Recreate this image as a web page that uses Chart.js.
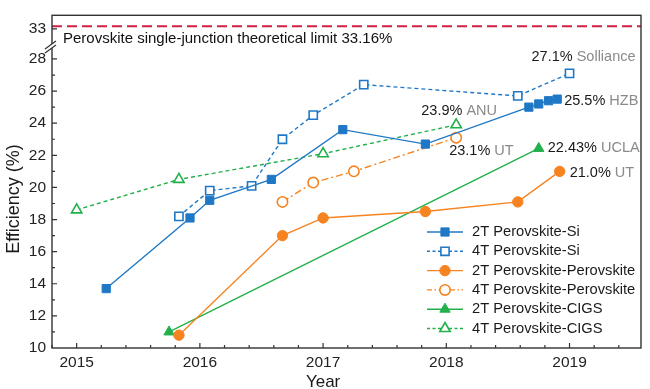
<!DOCTYPE html>
<html>
<head>
<meta charset="utf-8">
<script src="https://cdn.jsdelivr.net/npm/chart.js@4.4.0/dist/chart.umd.min.js"></script>
<style>
  html, body { margin: 0; padding: 0; background: #fff; }
  #chart__wrap { width: 650px; height: 389px; }
</style>
</head>
<body>
<div id="chart__wrap"><canvas id="chart-canvas" width="650" height="389"></canvas></div>
<script>
// axis ticks
const yearTicks = [2015, 2016, 2017, 2018, 2019];
const effTicks = [10, 12, 14, 16, 18, 20, 22, 24, 26, 28];
const effTicksTop = [33];

// series: year / efficiency (%)
const si2T_years = [2015.24, 2015.92, 2016.08, 2016.58, 2017.16, 2017.83, 2018.67, 2018.75, 2018.83, 2018.9];
const si2T_eff = [13.7, 18.1, 19.2, 20.5, 23.6, 22.7, 25.0, 25.2, 25.4, 25.5];

const si4T_years = [2015.83, 2016.08, 2016.42, 2016.67, 2016.92, 2017.33, 2018.58, 2019.0];
const si4T_eff = [18.2, 19.8, 20.1, 23.0, 24.5, 26.4, 25.7, 27.1];

const pp2T_years = [2015.83, 2016.67, 2017.0, 2017.83, 2018.58, 2018.92];
const pp2T_eff = [10.8, 17.0, 18.1, 18.5, 19.1, 21.0];

const pp4T_years = [2016.67, 2016.92, 2017.25, 2018.08];
const pp4T_eff = [19.1, 20.3, 21.0, 23.1];

const cigs2T_years = [2015.75, 2018.75];
const cigs2T_eff = [11.0, 22.43];

const cigs4T_years = [2015.0, 2015.83, 2017.0, 2018.08];
const cigs4T_eff = [18.6, 20.5, 22.1, 23.9];

const limitYears = [2014.8, 2019.58];
const limitEff = [33.16, 33.16];

const seriesLabels = [
  "2T Perovskite-Si",
  "4T Perovskite-Si",
  "2T Perovskite-Perovskite",
  "4T Perovskite-Perovskite",
  "2T Perovskite-CIGS",
  "4T Perovskite-CIGS",
];

const noteNums = ["27.1%", "25.5%", "23.9%", "23.1%", "22.43%", "21.0%"];
const noteLabs = ["Solliance", "HZB", "ANU", "UT", "UCLA", "UT"];

const BLUE = "#1f78c6";
const ORANGE = "#f6831f";
const GREEN = "#22b04b";
const RED = "#cf2145";
const FONT = "'Liberation Sans', Arial, sans-serif";

Chart.defaults.font.family = FONT;
Chart.defaults.color = "#222";

function toPoints(xs, ys) {
  return xs.map((x, i) => ({ x: x, y: ys[i] }));
}

function series(label, xs, ys, color, style, dash, open) {
  const r = style === "rect" ? 5.8 : style === "triangle" ? 6 : 5.2;
  return {
    label: label,
    data: toPoints(xs, ys),
    borderColor: color,
    backgroundColor: color,
    borderWidth: 1.4,
    borderDash: dash,
    pointStyle: style,
    pointRadius: r,
    pointHoverRadius: r,
    pointBackgroundColor: open ? "#fff" : color,
    pointBorderColor: color,
    pointBorderWidth: open ? 1.6 : 1,
    fill: false,
    tension: 0,
    yAxisID: "y",
    isOpen: open,
  };
}

const datasets = [
  series(seriesLabels[0], si2T_years, si2T_eff, BLUE, "rect", [], false),
  series(seriesLabels[1], si4T_years, si4T_eff, BLUE, "rect", [4, 3], true),
  series(seriesLabels[2], pp2T_years, pp2T_eff, ORANGE, "circle", [], false),
  series(seriesLabels[3], pp4T_years, pp4T_eff, ORANGE, "circle", [7, 3, 2, 3], true),
  series(seriesLabels[4], cigs2T_years, cigs2T_eff, GREEN, "triangle", [], false),
  series(seriesLabels[5], cigs4T_years, cigs4T_eff, GREEN, "triangle", [4, 3], true),
  {
    label: "limit",
    data: toPoints(limitYears, limitEff),
    borderColor: RED,
    borderWidth: 2,
    borderDash: [10, 5],
    pointRadius: 0,
    yAxisID: "yTop",
  },
];

function drawMarker(ctx, style, x, y, r, color, open) {
  ctx.save();
  ctx.setLineDash([]);
  ctx.fillStyle = open ? "#fff" : color;
  ctx.strokeStyle = color;
  ctx.lineWidth = open ? 1.6 : 1;
  ctx.beginPath();
  if (style === "rect") {
    const s = Math.SQRT1_2 * r;
    ctx.rect(x - s, y - s, 2 * s, 2 * s);
  } else if (style === "triangle") {
    for (let k = 0; k < 3; k++) {
      const a = k * 2 * Math.PI / 3;
      const px = x + Math.sin(a) * r;
      const py = y - Math.cos(a) * r;
      if (k === 0) ctx.moveTo(px, py); else ctx.lineTo(px, py);
    }
    ctx.closePath();
  } else {
    ctx.arc(x, y, r, 0, Math.PI * 2);
  }
  ctx.fill();
  ctx.stroke();
  ctx.restore();
}

const decorPlugin = {
  id: "decor",
  afterDatasetsDraw(chart) {
    const { ctx, chartArea: a, scales } = chart;
    const sx = scales.x, sy = scales.y, sTop = scales.yTop;
    ctx.save();

    // frame
    ctx.strokeStyle = "#333";
    ctx.lineWidth = 1.4;
    ctx.setLineDash([]);
    ctx.strokeRect(a.left, a.top, a.right - a.left, a.bottom - a.top);

    // inward ticks
    ctx.lineWidth = 1.2;
    ctx.beginPath();
    for (let i = 0; i <= 23; i++) {
      const v = 2014.8 + i * 0.2;
      const px = sx.getPixelForValue(v);
      const major = Math.abs(v - Math.round(v)) < 0.01;
      ctx.moveTo(px, a.bottom);
      ctx.lineTo(px, a.bottom - (major ? 5 : 3));
    }
    for (let v = 11; v <= 28; v++) {
      const py = sy.getPixelForValue(v);
      ctx.moveTo(a.left, py);
      ctx.lineTo(a.left + (v % 2 === 0 ? 5 : 3), py);
    }
    for (const v of effTicksTop) {
      const py = sTop.getPixelForValue(v);
      ctx.moveTo(a.left, py);
      ctx.lineTo(a.left + 5, py);
    }
    ctx.stroke();

    // axis break
    const by = sy.top;
    ctx.fillStyle = "#fff";
    ctx.beginPath();
    ctx.moveTo(a.left - 7, by + 3);
    ctx.lineTo(a.left + 4, by - 5);
    ctx.lineTo(a.left + 4, by - 9);
    ctx.lineTo(a.left - 7, by - 1);
    ctx.closePath();
    ctx.fill();
    ctx.beginPath();
    ctx.moveTo(a.left - 7, by + 3);
    ctx.lineTo(a.left + 4, by - 5);
    ctx.moveTo(a.left - 7, by - 1);
    ctx.lineTo(a.left + 4, by - 9);
    ctx.stroke();

    // limit text
    ctx.font = "15px " + FONT;
    ctx.fillStyle = "#111";
    ctx.textBaseline = "middle";
    ctx.textAlign = "left";
    ctx.fillText("Perovskite single-junction theoretical limit 33.16%", a.left + 11, sTop.getPixelForValue(limitEff[0]) + 13);

    // point notes
    ctx.font = "14.5px " + FONT;
    const anchors = [
      [si4T_years, si4T_eff, si4T_years.length - 1, "right", 66, -16.6],
      [si2T_years, si2T_eff, si2T_years.length - 1, "left", 7, 1.7],
      [cigs4T_years, cigs4T_eff, cigs4T_years.length - 1, "center", 3, -14.3],
      [pp4T_years, pp4T_eff, pp4T_years.length - 1, "left", -7, 13.6],
      [cigs2T_years, cigs2T_eff, cigs2T_years.length - 1, "left", 9, 0],
      [pp2T_years, pp2T_eff, pp2T_years.length - 1, "left", 10, 1.7],
    ];
    anchors.forEach((an, i) => {
      const px = sx.getPixelForValue(an[0][an[2]]) + an[4];
      const py = sy.getPixelForValue(an[1][an[2]]) + an[5];
      const t1 = noteNums[i] + " ";
      const w1 = ctx.measureText(t1).width;
      const w = w1 + ctx.measureText(noteLabs[i]).width;
      let left = px;
      if (an[3] === "right") left = px - w;
      if (an[3] === "center") left = px - w / 2;
      ctx.textAlign = "left";
      ctx.fillStyle = "#1a1a1a";
      ctx.fillText(t1, left, py);
      ctx.fillStyle = "#8a8a8a";
      ctx.fillText(noteLabs[i], left + w1, py);
    });

    // legend
    const lx = 427, ly = 232, lh = 19.3;
    chart.data.datasets.slice(0, 6).forEach((ds, i) => {
      const y = ly + i * lh;
      ctx.strokeStyle = ds.borderColor;
      ctx.lineWidth = 1.4;
      ctx.setLineDash(ds.borderDash.length ? [3, 2.5] : []);
      if (ds.borderDash.length === 4) ctx.setLineDash([5, 2.5, 1.5, 2.5]);
      ctx.beginPath();
      ctx.moveTo(lx, y);
      ctx.lineTo(lx + 36, y);
      ctx.stroke();
      drawMarker(ctx, ds.pointStyle, lx + 18, y, ds.pointRadius, ds.borderColor, ds.isOpen);
      ctx.fillStyle = "#1a1a1a";
      ctx.font = "14.7px " + FONT;
      ctx.textAlign = "left";
      ctx.fillText(ds.label, lx + 45, y);
    });

    // x title
    ctx.font = "17px " + FONT;
    ctx.fillStyle = "#1a1a1a";
    ctx.textAlign = "center";
    ctx.fillText("Year", sx.getPixelForValue(2017), 382.5);

    ctx.restore();
  },
};

const config = {
  type: "line",
  data: { datasets: datasets },
  options: {
    responsive: false,
    animation: false,
    devicePixelRatio: 1,
    layout: { padding: { top: 2, right: 9, left: 0, bottom: 0 } },
    plugins: { legend: { display: false }, tooltip: { enabled: false } },
    scales: {
      x: {
        type: "linear",
        min: 2014.8,
        max: 2019.58,
        afterBuildTicks: (s) => { s.ticks = yearTicks.map((v) => ({ value: v })); },
        afterFit: (s) => { s.height = 41; },
        ticks: { callback: (v) => String(v), font: { size: 15.5 }, color: "#222", padding: 5, maxRotation: 0, autoSkip: false },
        grid: { display: false, drawTicks: false },
        border: { display: false },
      },
      y: {
        type: "linear",
        position: "left",
        stack: "eff",
        stackWeight: 18.56,
        min: 10,
        max: 28.56,
        afterBuildTicks: (s) => { s.ticks = effTicks.map((v) => ({ value: v })); },
        afterFit: (s) => { s.width = 52; },
        ticks: { font: { size: 15.5 }, color: "#222", padding: 6, autoSkip: false },
        grid: { display: false, drawTicks: false },
        border: { display: false },
        title: { display: true, text: "Efficiency (%)", font: { size: 18 }, color: "#1a1a1a", padding: { top: 3, bottom: 0 } },
      },
      yTop: {
        type: "linear",
        position: "left",
        stack: "eff",
        stackWeight: 2.16,
        min: 31.68,
        max: 33.84,
        afterBuildTicks: (s) => { s.ticks = effTicksTop.map((v) => ({ value: v })); },
        afterFit: (s) => { s.width = 52; },
        ticks: { font: { size: 15.5 }, color: "#222", padding: 6, autoSkip: false },
        grid: { display: false, drawTicks: false },
        border: { display: false },
      },
    },
  },
  plugins: [decorPlugin],
};

const myChart = new Chart(document.getElementById("chart-canvas"), config);
</script>
</body>
</html>
